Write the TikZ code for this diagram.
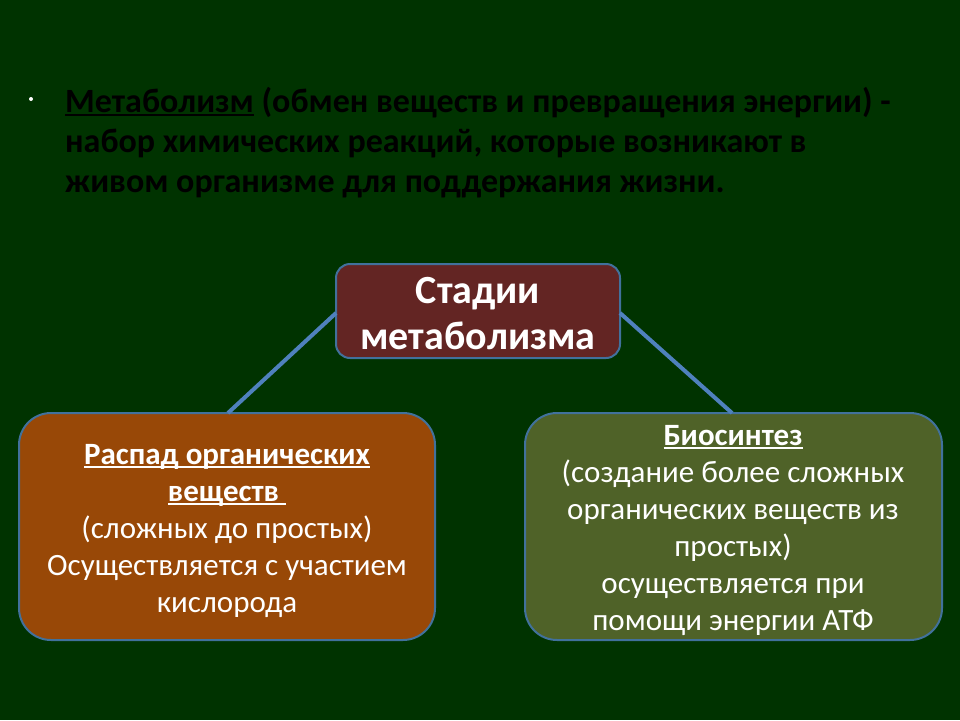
\documentclass[tikz,border=0pt]{standalone}
\usepackage{fontspec}
\setmainfont{Carlito}
\definecolor{bg}{HTML}{003300}
\definecolor{maroon}{HTML}{632523}
\definecolor{brownbox}{HTML}{984807}
\definecolor{olivebox}{HTML}{4F6228}
\definecolor{edgeblue}{HTML}{41719C}
\definecolor{linkblue}{HTML}{4F81BD}
\newcommand\thickul[1]{\setbox0=\hbox{#1}\leavevmode\rlap{\raisebox{-0.13em}{\rule{\wd0}{0.065em}}}\box0\relax}
\tikzset{
  box/.style={draw=edgeblue, line width=2pt, rounded corners=#1, inner sep=0pt},
  link/.style={draw=linkblue, line width=4pt},
  boxtext/.style={text=white, align=center, inner sep=0pt, anchor=base},
}
\begin{document}
\begin{tikzpicture}[x=1pt,y=-1pt]
\fill[bg] (0,0) rectangle (960,720);
\useasboundingbox (0,0) rectangle (960,720);
% bullet
\node[circle, fill=white, minimum size=4pt, inner sep=0pt] (dot) at (31,99) {};
% title
\node[anchor=base west, align=left, inner sep=0pt, text=black, font=\bfseries\fontsize{34}{40}\selectfont] (title) at (65,192)
 {\thickul{Метаболизм} (обмен веществ и превращения энергии) -\\
  набор химических реакций, которые возникают в\\
  живом организме для поддержания жизни.};
% boxes
\node[box=14pt, fill=maroon, minimum width=284pt, minimum height=94pt] (top) at (478,311) {};
\node[box=32pt, fill=brownbox, minimum width=416pt, minimum height=227pt] (left) at (227,526.5) {};
\node[box=32pt, fill=olivebox, minimum width=417pt, minimum height=227pt] (right) at (733.5,526.5) {};
% connectors
\coordinate (tl) at (336,313);
\coordinate (tr) at (620,313);
\coordinate (lt) at (228,413);
\coordinate (rt) at (732,413);
\draw[link] (tl) -- (lt);
\draw[link] (tr) -- (rt);
% texts
\node[boxtext, font=\bfseries\fontsize{40}{46}\selectfont] (toptext) at (478,349)
 {Стадии\\метаболизма};
\node[boxtext, font=\fontsize{31}{37}\selectfont] (lefttext) at (227,612)
 {\textbf{\thickul{Распад органических}}\\
  \textbf{\thickul{веществ\ }}\\
  (сложных до простых)\\
  Осуществляется с участием\\
  кислорода};
\node[boxtext, font=\fontsize{31}{37}\selectfont] (righttext) at (733,630)
 {\textbf{\thickul{Биосинтез}}\\
  (создание более сложных\\
  органических веществ из\\
  простых)\\
  осуществляется при\\
  помощи энергии АТФ};
\end{tikzpicture}
\end{document}
